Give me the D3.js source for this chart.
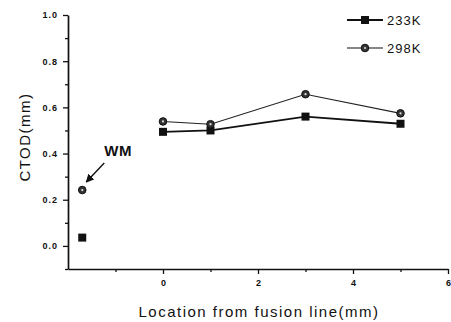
<!DOCTYPE html>
<html>
<head>
<meta charset="utf-8">
<script src="https://cdn.jsdelivr.net/npm/d3@7"></script>
<style>
  body { margin: 0; background: #fff; }
  text { font-family: Arial, "Liberation Sans", sans-serif; fill: #111; }
</style>
</head>
<body>
<svg id="chart" width="451" height="322"></svg>
<script>
// data
var series = ["233K", "298K"];
var xs233 = [-1.7, 0, 1, 3, 5];
var ys233 = [0.036, 0.494, 0.500, 0.560, 0.529];
var xs298 = [-1.7, 0, 1, 3, 5];
var ys298 = [0.242, 0.539, 0.527, 0.657, 0.574];
var xTicks = [0, 2, 4, 6];
var yTicks = [0.0, 0.2, 0.4, 0.6, 0.8, 1.0];

var margin = {top: 15, right: 3, bottom: 53, left: 68};
var width = 451 - margin.left - margin.right,
    height = 322 - margin.top - margin.bottom;

var svg = d3.select("#chart")
    .append("g")
    .attr("transform", "translate(" + margin.left + "," + margin.top + ")");

var x = d3.scaleLinear().domain([-2, 6]).range([0, width]);
var y = d3.scaleLinear().domain([-0.1, 1.0]).range([height, 0]);

// minor ticks
svg.append("g")
    .attr("transform", "translate(0," + height + ")")
    .call(d3.axisBottom(x).tickValues([-1, 1, 3, 5]).tickSize(3).tickFormat(""))
    .select(".domain").remove();
svg.append("g")
    .call(d3.axisLeft(y).tickValues([-0.1, 0.1, 0.3, 0.5, 0.7, 0.9]).tickSize(3).tickFormat(""))
    .select(".domain").remove();

// x axis
var xAxis = svg.append("g")
    .attr("transform", "translate(0," + height + ")")
    .call(d3.axisBottom(x).tickValues(xTicks).tickSize(5).tickSizeOuter(0).tickPadding(6));
xAxis.selectAll("text")
    .style("font-size", "9px")
    .style("font-weight", "bold");

// y axis
var yAxis = svg.append("g")
    .call(d3.axisLeft(y).tickValues(yTicks).tickSize(5).tickSizeOuter(0).tickPadding(5)
        .tickFormat(d3.format(".1f")));
yAxis.selectAll("text")
    .style("font-size", "9px")
    .style("font-weight", "bold")
    .style("letter-spacing", "1px");

svg.selectAll(".domain").attr("stroke-width", 1.7).attr("stroke", "#111");
svg.selectAll(".tick line").attr("stroke-width", 1.3).attr("stroke", "#111");

var line = d3.line()
    .x(function(d) { return x(d[0]); })
    .y(function(d) { return y(d[1]); });

var d233 = xs233.map(function(v, i) { return [v, ys233[i]]; });
var d298 = xs298.map(function(v, i) { return [v, ys298[i]]; });

// lines (WM point is not joined)
svg.append("path")
    .datum(d298.slice(1))
    .attr("d", line)
    .attr("fill", "none")
    .attr("stroke", "#222")
    .attr("stroke-width", 1.1);

svg.append("path")
    .datum(d233.slice(1))
    .attr("d", line)
    .attr("fill", "none")
    .attr("stroke", "#111")
    .attr("stroke-width", 1.8);

function drawSquare(g, cx, cy) {
    g.append("rect")
        .attr("x", cx - 4)
        .attr("y", cy - 4)
        .attr("width", 8)
        .attr("height", 8)
        .attr("fill", "#111");
}

function drawCircle(g, cx, cy) {
    g.append("circle")
        .attr("cx", cx)
        .attr("cy", cy)
        .attr("r", 3.8)
        .attr("fill", "#333")
        .attr("stroke", "#111")
        .attr("stroke-width", 1);
    g.append("circle")
        .attr("cx", cx)
        .attr("cy", cy)
        .attr("r", 1.1)
        .attr("fill", "#ddd");
}

d233.forEach(function(d) { drawSquare(svg, x(d[0]), y(d[1])); });
d298.forEach(function(d) { drawCircle(svg, x(d[0]), y(d[1])); });

// axis titles
svg.append("text")
    .attr("x", 259 - margin.left)
    .attr("y", 317 - margin.top)
    .style("text-anchor", "middle")
    .style("font-size", "15px")
    .style("letter-spacing", "1.5px")
    .text("Location from fusion line(mm)");

svg.append("text")
    .attr("transform", "rotate(-90)")
    .attr("x", -(137 - margin.top))
    .attr("y", 30 - margin.left)
    .style("text-anchor", "middle")
    .style("font-size", "15px")
    .style("letter-spacing", "1.5px")
    .text("CTOD(mm)");

// WM annotation
svg.append("text")
    .attr("x", x(-1.7) + 22)
    .attr("y", y(0.242) - 34)
    .style("font-size", "15px")
    .style("font-weight", "bold")
    .style("letter-spacing", "0.5px")
    .text("WM");

var defs = d3.select("#chart").append("defs");
defs.append("marker")
    .attr("id", "arrow")
    .attr("viewBox", "0 0 10 10")
    .attr("refX", 9)
    .attr("refY", 5)
    .attr("markerWidth", 6)
    .attr("markerHeight", 6)
    .attr("orient", "auto")
    .append("path")
    .attr("d", "M0,0 L10,5 L0,10 z")
    .attr("fill", "#111");

svg.append("line")
    .attr("x1", x(-1.7) + 22)
    .attr("y1", y(0.242) - 27)
    .attr("x2", x(-1.7) + 4)
    .attr("y2", y(0.242) - 8)
    .attr("stroke", "#111")
    .attr("stroke-width", 1.4)
    .attr("marker-end", "url(#arrow)");

// legend
var legend = d3.select("#chart").append("g");
series.forEach(function(name, i) {
    var ly = 20 + i * 28;
    legend.append("line")
        .attr("x1", 347).attr("x2", 383)
        .attr("y1", ly).attr("y2", ly)
        .attr("stroke", "#111")
        .attr("stroke-width", i == 0 ? 1.8 : 1.1);
    if (i == 0) drawSquare(legend, 365, ly);
    else drawCircle(legend, 365, ly);
    legend.append("text")
        .attr("x", 387)
        .attr("y", ly + 5)
        .style("font-size", "13px")
        .style("letter-spacing", "1px")
        .text(name);
});
</script>
</body>
</html>
